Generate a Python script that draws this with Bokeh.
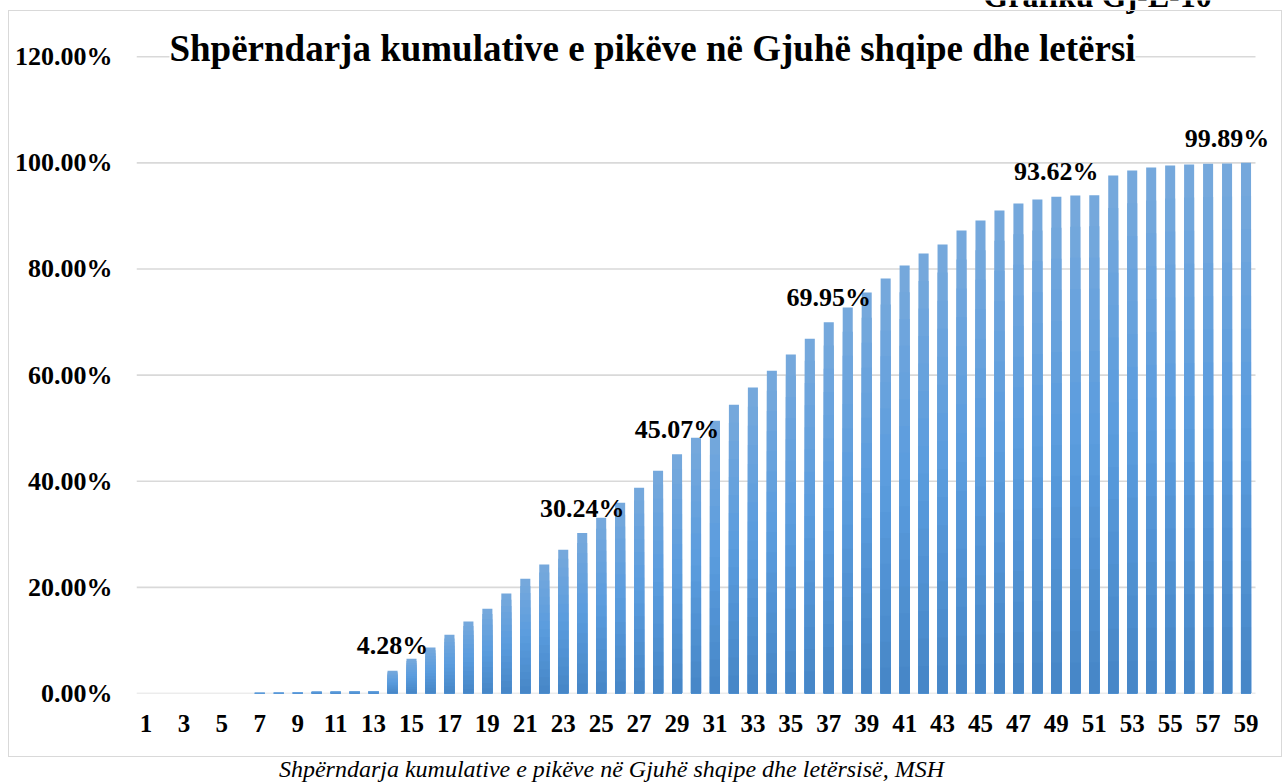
from bokeh.plotting import figure
from bokeh.layouts import column
from bokeh.models import (Range1d, FixedTicker, PrintfTickFormatter, ColumnDataSource, Label,
                          InlineStyleSheet)
from bokeh.core.properties import value
from bokeh.embed import file_html
from bokeh.resources import INLINE

# ---- data ----
scores = list(range(1, 60))
cumulative_pct = [
    0.0, 0.0, 0.0, 0.0, 0.0, 0.0, 0.16, 0.18, 0.21, 0.39,
    0.42, 0.46, 0.49, 4.28, 6.54, 8.67, 11.07, 13.57, 15.97, 18.85,
    21.62, 24.32, 27.09, 30.24, 33.13, 35.95, 38.78, 41.99, 45.07, 48.21,
    51.41, 54.40, 57.64, 60.84, 63.86, 66.87, 69.95, 72.72, 75.55, 78.19,
    80.64, 82.90, 84.60, 87.24, 89.12, 91.00, 92.33, 93.08, 93.62, 93.84,
    93.90, 97.60, 98.55, 99.11, 99.49, 99.68, 99.81, 99.89, 100.00,
]
labelled_scores = [14, 24, 29, 37, 49, 58]
x_ticks = list(range(1, 60, 2))
y_ticks = [0, 20, 40, 60, 80, 100, 120]
title_text = "Shpërndarja kumulative e pikëve në Gjuhë shqipe dhe letërsi"
caption_text = "Shpërndarja kumulative e pikëve në Gjuhë shqipe dhe letërsisë, MSH"
figure_number = "Grafiku Gj-L-10"

FONT = "Liberation Serif"
W = 1285
H_MAIN, H_CAP = 760, 23
ML = 136
FRAME_BOTTOM = 693                    # px from the top of the page
MB = H_MAIN - FRAME_BOTTOM
PLOT_RIGHT = 1255                     # where the category axis ends
X0, X1 = 0.5, 59.5
PX_PER_X = (PLOT_RIGHT - ML) / (X1 - X0)
X_END = X1 + (W - PLOT_RIGHT) / PX_PER_X   # frame reaches the right edge (room for labels)
Y_TOP = 120 * FRAME_BOTTOM / (FRAME_BOTTOM - 56.2)   # frame reaches the top edge

p = figure(width=W, height=H_MAIN, output_backend="svg", toolbar_location=None,
           x_range=Range1d(X0, X_END), y_range=Range1d(0, Y_TOP),
           min_border_left=ML, min_border_right=0, min_border_top=0, min_border_bottom=MB)
p.outline_line_color = None
p.background_fill_color = "white"
p.border_fill_color = "white"

# light outer border of the chart box (drawn by css over the canvas)
p.stylesheets = [InlineStyleSheet(css=(
    ":host{position:relative;}"
    ":host::after{content:'';position:absolute;left:8px;top:10px;width:1274px;height:747px;"
    "border:1.5px solid #d9d9d9;box-sizing:border-box;pointer-events:none;z-index:5;}"))]

# horizontal grid lines across the category span only
p.xgrid.grid_line_color = None
p.ygrid.grid_line_color = None
p.segment(x0=[X0] * len(y_ticks), x1=[X1] * len(y_ticks), y0=y_ticks, y1=y_ticks,
          line_color="#d9d9d9", line_width=1.6, level="underlay")

# bars with a vertical gradient: overlapping layers, tallest (lightest) first
N = 16
def lerp(c1, c2, t):
    return "#%02x%02x%02x" % tuple(int(round(a + (b - a) * t)) for a, b in zip(c1, c2))
bottom_c = (0x46, 0x86, 0xc6)
mid_c = (0x5a, 0x9c, 0xde)
top_c = (0x77, 0xa9, 0xdc)
for k in range(N):
    frac = (N - k) / N
    t = (N - k - 0.5) / N
    col = lerp(bottom_c, mid_c, t / 0.5) if t < 0.5 else lerp(mid_c, top_c, (t - 0.5) / 0.5)
    p.vbar(x=scores, bottom=0, top=[v * frac for v in cumulative_pct],
           width=0.53, fill_color=col, line_color=None)

# data labels
lab_vals = [cumulative_pct[s - 1] for s in labelled_scores]
src = ColumnDataSource(dict(x=labelled_scores, y=lab_vals,
                            t=["%.2f%%" % v for v in lab_vals]))
p.text(x="x", y="y", text="t", source=src, text_align="center", text_baseline="alphabetic",
       y_offset=-25, text_font=value(FONT), text_font_style="bold",
       text_font_size="26px", text_color="black")

# axes
p.xaxis.ticker = FixedTicker(ticks=x_ticks)
p.yaxis.ticker = FixedTicker(ticks=y_ticks)
p.yaxis.formatter = PrintfTickFormatter(format="%.2f%%")
for ax in (p.xaxis, p.yaxis):
    ax.axis_line_color = None
    ax.major_tick_line_color = None
    ax.minor_tick_line_color = None
    ax.major_label_text_font = FONT
    ax.major_label_text_font_style = "bold"
    ax.major_label_text_color = "black"
p.yaxis.major_label_text_font_size = "26px"
p.xaxis.major_label_text_font_size = "25px"
p.yaxis.major_label_standoff = 18
p.xaxis.major_label_standoff = 15

# screen positions relative to the frame's bottom-left corner
def fx(px):
    return px - ML
def fy(py):
    return FRAME_BOTTOM - py

# title (white background hides the top grid line)
p.add_layout(Label(x=fx(652), y=fy(48), x_units="screen", y_units="screen", text=title_text,
                   text_align="center", text_baseline="alphabetic",
                   text_font=FONT, text_font_style="bold", text_font_size="37px",
                   text_color="black", background_fill_color="white"))

# figure number, cut by the top edge as in the source page
p.add_layout(Label(x=fx(1097), y=fy(-5), x_units="screen", y_units="screen", text=figure_number,
                   text_align="center", text_baseline="alphabetic",
                   text_font=FONT, text_font_style="bold", text_font_size="32px",
                   text_color="black"))

# caption strip below the chart box (its frame is aligned with the main frame)
c = figure(width=W, height=H_CAP, output_backend="svg", toolbar_location=None,
           x_range=Range1d(0, 1), y_range=Range1d(0, 1),
           x_axis_location=None, y_axis_location=None,
           min_border_left=0, min_border_right=0, min_border_top=0, min_border_bottom=0)
c.outline_line_color = None
c.grid.visible = False
c.background_fill_color = "white"
c.border_fill_color = "white"
c.add_layout(Label(x=611 - ML, y=H_CAP - (768.5 - H_MAIN), x_units="screen", y_units="screen",
                   text=caption_text, text_align="center", text_baseline="alphabetic",
                   text_font=FONT, text_font_style="italic", text_font_size="24px",
                   text_color="black"))

layout = column(p, c, spacing=0)
open("out.html", "w").write(file_html(layout, INLINE))
